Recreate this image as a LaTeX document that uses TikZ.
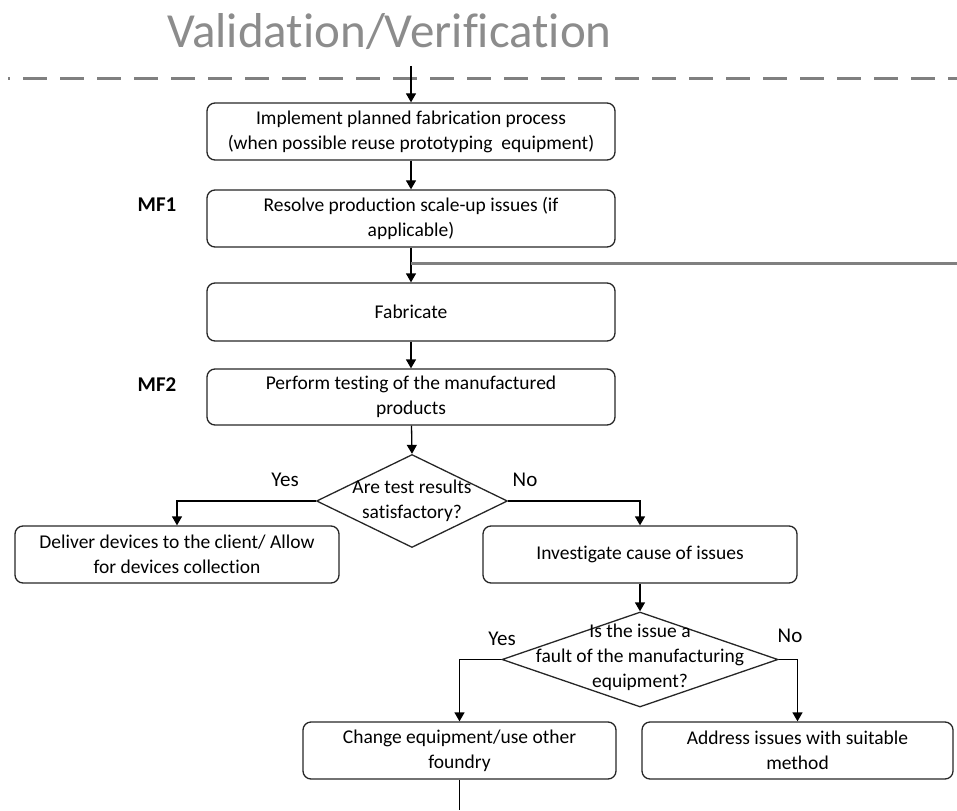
\documentclass[tikz,border=0pt]{standalone}
\usepackage{fontspec}
\setmainfont{Carlito}[Ligatures=NoCommon]
\usetikzlibrary{arrows.meta,shapes.geometric}
\begin{document}
\begin{tikzpicture}[x=1pt,y=-1pt,
  stepbox/.style={draw=black!85, line width=1.3pt, rounded corners=8pt,
    minimum width=#1, minimum height=57pt, inner sep=2pt, align=center,
    font=\fontsize{19.5}{25}\selectfont},
  stepbox/.default=408pt,
  decision/.style={draw=black!85, line width=1.3pt, diamond, inner sep=0pt},
  dtext/.style={align=center, inner sep=0pt, font=\fontsize{19.5}{25}\selectfont},
  answer/.style={inner sep=0pt, font=\fontsize{21}{25}\selectfont},
  tag/.style={inner sep=0pt, font=\fontsize{21}{25}\selectfont\bfseries},
  flow/.style={line width=1.3pt, black, -{Triangle[width=10pt,length=9pt]}},
  plain/.style={line width=1.3pt, black},
]
\useasboundingbox (0,0) rectangle (957,810);

% heading and phase separator
\node[anchor=base, inner sep=0pt, text=black!45, font=\fontsize{49}{55}\selectfont]
  (title) at (389.5,48) {Validation/Verification};
\coordinate (sepL) at (8,79);
\coordinate (sepR) at (957,79);
\draw[black!50, line width=3pt, dash pattern=on 24pt off 13pt, dash phase=22pt] (sepL) -- (sepR);

% process steps
\coordinate (entry) at (411,66);
\node[stepbox] (b1) at (411,131.5) {Implement planned fabrication process\\(when possible reuse prototyping\ \ equipment)};
\node[stepbox] (b2) at (411,218.5) {Resolve production scale-up issues (if\\applicable)};
\node[stepbox, minimum height=58pt] (b3) at (411,312) {Fabricate};
\node[stepbox, minimum height=56pt] (b4) at (411,397) {Perform testing of the manufactured\\products};

\node[tag] (mf1) at (157,205) {MF1};
\node[tag] (mf2) at (157,385) {MF2};

% first decision
\node[decision, minimum width=191pt, minimum height=93pt] (d1) at (412,501) {};
\node[dtext] (d1t) at (412,500.5) {Are test results\\satisfactory?};
\node[stepbox=324pt] (del) at (177,554.5) {Deliver devices to the client/ Allow\\for devices collection};
\node[stepbox=314pt] (inv) at (640,554.5) {Investigate cause of issues};

% second decision
\node[decision, minimum width=276pt, minimum height=95pt] (d2) at (640,659.5) {};
\node[dtext] (d2t) at (640,657) {Is the issue a\\fault of the manufacturing\\equipment?};
\node[stepbox=313pt] (chg) at (459.5,750.5) {Change equipment/use other\\foundry};
\node[stepbox=311pt] (adr) at (797.5,750.5) {Address issues with suitable\\method};

% branch labels
\node[answer] (y1) at (285,480) {Yes};
\node[answer] (n1) at (525,480) {No};
\node[answer] (y2) at (502,639) {Yes};
\node[answer] (n2) at (790,636) {No};

% connectors
\draw[flow] (entry) -- (b1.north);
\draw[flow] (b1) -- (b2);
\draw[flow] (b2) -- (b3);
\coordinate (loopJ) at (411,263);
\coordinate (loopR) at (957,263);
\draw[black!50, line width=3pt] (loopJ) -- (loopR);
\draw[flow] (b3) -- (b4);
\draw[flow] (b4) -- (d1.north);
\draw[flow] (d1.west) -| (del.north);
\draw[flow] (d1.east) -| (inv.north);
\draw[flow] (inv) -- (d2.north);
\draw[flow] (d2.west) -| (chg.north);
\draw[flow] (d2.east) -| (adr.north);
\coordinate (out) at (459.5,810);
\draw[plain] (chg) -- (out);
\end{tikzpicture}
\end{document}
